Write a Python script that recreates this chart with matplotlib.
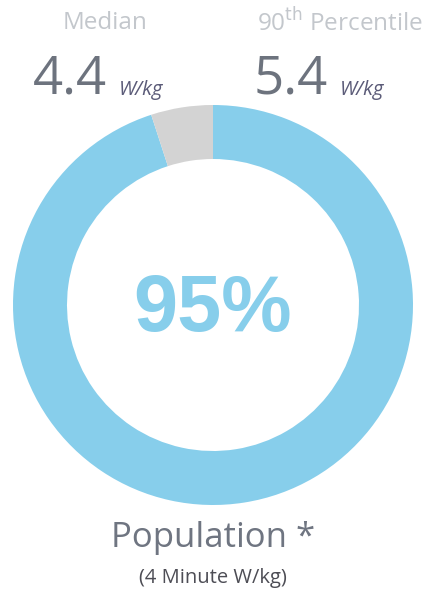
import matplotlib.pyplot as plt

shares = [95, 5]
ring_colors = ['#87ceeb', '#d3d3d3']
center_label = '95%'
stat_names = ['Median', '90$^{\\mathrm{th}}$ Percentile']
stat_values = ['4.4', '5.4']
unit = 'W/kg'
caption = 'Population *'
sub_caption = '(4 Minute W/kg)'

W, H = 432, 595
fig = plt.figure(figsize=(W / 100, H / 100), dpi=100)
ax = fig.add_axes([0, 0, 1, 1])

# ring, in pixel coords (y measured from bottom)
ax.pie(shares, colors=ring_colors, startangle=90, counterclock=False,
       center=(213, H - 305), radius=200,
       wedgeprops=dict(width=54, linewidth=0))
ax.set_xlim(0, W)
ax.set_ylim(0, H)
ax.set_aspect('equal')
ax.axis('off')

sans = 'Open Sans'
ax.text(213, H - 310, center_label, ha='center', va='center',
        fontsize=57, fontweight='bold', color='#87ceeb', family='Liberation Sans')

# header stats
for x_name, x_val, name, val in [(105, 33, stat_names[0], stat_values[0]),
                                 (340, 254, stat_names[1], stat_values[1])]:
    ax.text(x_name, H - 23, name, ha='center', va='center', fontsize=17.5,
            color='#c3c7cc', family=sans)
    ax.text(x_val, H - 80, val, ha='left', va='center', fontsize=38,
            color='#6d737e', family=sans)
    ax.text(x_val + 86, H - 90, unit, ha='left', va='center', fontsize=14.5,
            style='italic', color='#5b5b78', family=sans)

ax.text(213, H - 538, caption, ha='center', va='center', fontsize=25,
        color='#6f7581', family=sans)
ax.text(213, H - 578, sub_caption, ha='center', va='center', fontsize=14.5,
        color='#4d4d55', family=sans)

fig.savefig('out.png', dpi=100)
